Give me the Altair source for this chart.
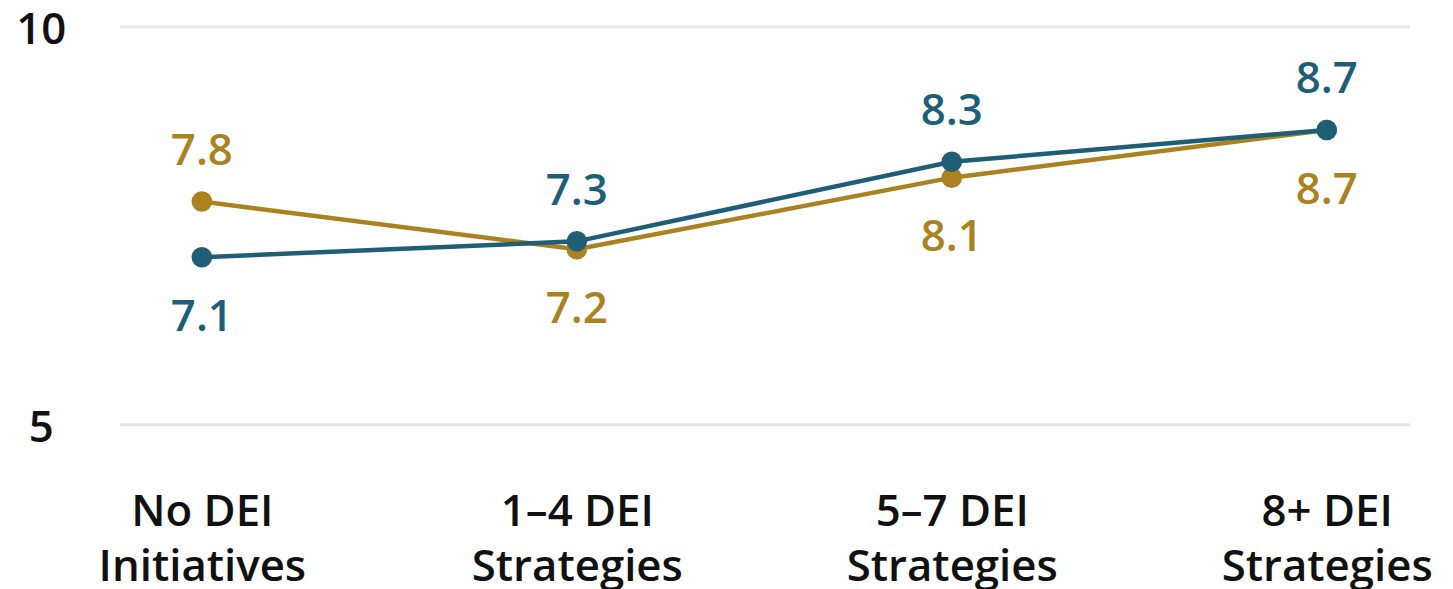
import altair as alt
import pandas as pd

categories = ["No DEI|Initiatives", "1–4 DEI|Strategies", "5–7 DEI|Strategies", "8+ DEI|Strategies"]
series_names = ["Series 1", "Series 2"]
gold_values = [7.8, 7.2, 8.1, 8.7]
teal_values = [7.1, 7.3, 8.3, 8.7]
colors = ["#AA821F", "#1F5E77"]

rows = []
for i, c in enumerate(categories):
    g, t = gold_values[i], teal_values[i]
    rows.append({"category": c, "series": series_names[0], "value": g,
                 "side": "above" if g > t else "below"})
for i, c in enumerate(categories):
    g, t = gold_values[i], teal_values[i]
    rows.append({"category": c, "series": series_names[1], "value": t,
                 "side": "above" if t >= g else "below"})
df = pd.DataFrame(rows)

FONT = "Open Sans"
WEIGHT = 600

x_enc = alt.X(
    "category:N", sort=categories,
    scale=alt.Scale(type="point", padding=0.22),
    axis=alt.Axis(title=None, domain=False, ticks=False, grid=False, labelAngle=0,
                  labelFont=FONT, labelFontSize=44, labelFontWeight=WEIGHT, labelColor="#111111",
                  labelPadding=67, labelLineHeight=55, labelBaseline="top",
                  labelLimit=500, labelOverlap=False,
                  labelExpr="split(datum.label, '|')"),
)
y_enc = alt.Y(
    "value:Q", scale=alt.Scale(domain=[5, 10], nice=False, zero=False),
    axis=alt.Axis(title=None, values=[5, 10], domain=False, ticks=False, grid=True,
                  gridColor="#e6e6e6", gridWidth=3,
                  labelFont=FONT, labelFontSize=44, labelFontWeight=WEIGHT, labelColor="#111111",
                  labelAlign="center", labelBaseline="middle", labelPadding=79, labelOffset=4),
)
color_enc = alt.Color("series:N", scale=alt.Scale(domain=series_names, range=colors), legend=None)

base = alt.Chart(df).encode(x=x_enc, y=y_enc, color=color_enc)

lines = base.mark_line(strokeWidth=4.5)
points = base.mark_circle(size=430, opacity=1)
labels_above = base.transform_filter(alt.datum.side == "above").mark_text(
    dy=-50, fontSize=44, font=FONT, fontWeight=WEIGHT, baseline="middle"
).encode(text=alt.Text("value:Q", format=".1f"))
labels_below = base.transform_filter(alt.datum.side == "below").mark_text(
    dy=61, fontSize=44, font=FONT, fontWeight=WEIGHT, baseline="middle"
).encode(text=alt.Text("value:Q", format=".1f"))

chart = alt.layer(lines, points, labels_above, labels_below).properties(
    width=1297, height=400,
    autosize=alt.AutoSizeParams(type="none"),
    padding={"left": 112, "top": 17, "right": 36, "bottom": 164},
).configure_view(stroke=None)

chart.save("out.html", embed_options={"renderer": "svg", "actions": False})
